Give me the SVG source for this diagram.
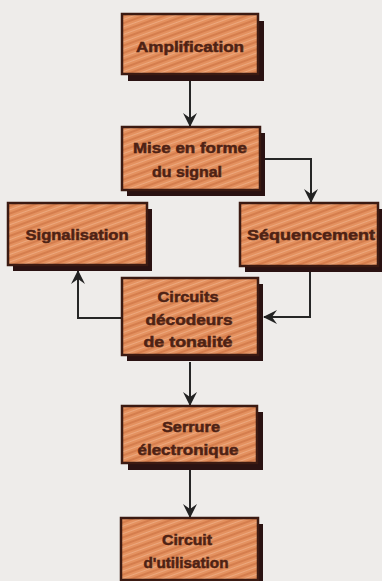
<svg xmlns="http://www.w3.org/2000/svg" width="382" height="581" viewBox="0 0 382 581">
<defs>
<pattern id="hatch" width="7" height="7" patternUnits="userSpaceOnUse" patternTransform="rotate(-20)">
<rect width="7" height="7" fill="#e4915f"/>
<line x1="0" y1="1" x2="7" y2="1" stroke="#c76a3a" stroke-width="1"/>
<line x1="0" y1="4.5" x2="7" y2="4.5" stroke="#efad86" stroke-width="0.8"/>
</pattern>
<marker id="ah" viewBox="0 0 14 14" refX="13" refY="7" markerWidth="14" markerHeight="14" orient="auto" markerUnits="userSpaceOnUse">
<path d="M0,0 L14,7 L0,14 L5,7 Z" fill="#222"/>
</marker>
</defs>
<style>
.sh{fill:#2a1212}
.bx{fill:url(#hatch);stroke:#3b1a12;stroke-width:2.5}
.t{font-family:"Liberation Sans",Arial,sans-serif;font-weight:bold;font-size:15px;fill:#4e2214;stroke:#4e2214;stroke-width:0.5;text-anchor:middle}
.c{fill:none;stroke:#262626;stroke-width:2}
</style>
<rect width="382" height="581" fill="#eeecea"/>

<g id="connectors">
<path class="c" d="M190,81 L190,126" marker-end="url(#ah)"/>
<path class="c" d="M265,159 L311,159 L311,202" marker-end="url(#ah)"/>
<path class="c" d="M310,272 L310,317 L264,317" marker-end="url(#ah)"/>
<path class="c" d="M122,318 L78,318 L78,271" marker-end="url(#ah)"/>
<path class="c" d="M190,362 L190,405" marker-end="url(#ah)"/>
<path class="c" d="M190,470 L190,517" marker-end="url(#ah)"/>
</g>

<g id="amplification">
<rect class="sh" x="128" y="21" width="136" height="60"/>
<rect class="bx" x="122" y="14" width="136" height="60"/>
<text class="t" x="190" y="52" textLength="108" lengthAdjust="spacingAndGlyphs">Amplification</text>
</g>

<g id="mise-en-forme">
<rect class="sh" x="127" y="133" width="138" height="63"/>
<rect class="bx" x="122" y="127" width="138" height="63"/>
<text class="t" x="190" y="153" textLength="114" lengthAdjust="spacingAndGlyphs">Mise en forme</text>
<text class="t" x="187" y="177" textLength="70" lengthAdjust="spacingAndGlyphs">du signal</text>
</g>

<g id="signalisation">
<rect class="sh" x="13" y="209" width="139" height="62"/>
<rect class="bx" x="8" y="203" width="139" height="62"/>
<text class="t" x="77" y="240" textLength="103" lengthAdjust="spacingAndGlyphs">Signalisation</text>
</g>

<g id="sequencement">
<rect class="sh" x="245" y="209" width="140" height="63"/>
<rect class="bx" x="240" y="203" width="138" height="63"/>
<text class="t" x="311" y="240" textLength="128" lengthAdjust="spacingAndGlyphs">Séquencement</text>
</g>

<g id="circuits-decodeurs">
<rect class="sh" x="127" y="284" width="136" height="77"/>
<rect class="bx" x="122" y="278" width="136" height="77"/>
<text class="t" x="188" y="302" textLength="61" lengthAdjust="spacingAndGlyphs">Circuits</text>
<text class="t" x="189" y="325" textLength="87" lengthAdjust="spacingAndGlyphs">décodeurs</text>
<text class="t" x="188" y="347" textLength="89" lengthAdjust="spacingAndGlyphs">de tonalité</text>
</g>

<g id="serrure">
<rect class="sh" x="128" y="412" width="135" height="58"/>
<rect class="bx" x="122" y="406" width="135" height="57"/>
<text class="t" x="191" y="432" textLength="58" lengthAdjust="spacingAndGlyphs">Serrure</text>
<text class="t" x="188" y="455" textLength="101" lengthAdjust="spacingAndGlyphs">électronique</text>
</g>

<g id="circuit-utilisation">
<rect class="sh" x="126" y="524" width="137" height="62"/>
<rect class="bx" x="121" y="518" width="137" height="62"/>
<text class="t" x="187" y="545" textLength="50" lengthAdjust="spacingAndGlyphs">Circuit</text>
<text class="t" x="186" y="568" textLength="85" lengthAdjust="spacingAndGlyphs">d'utilisation</text>
</g>
</svg>
